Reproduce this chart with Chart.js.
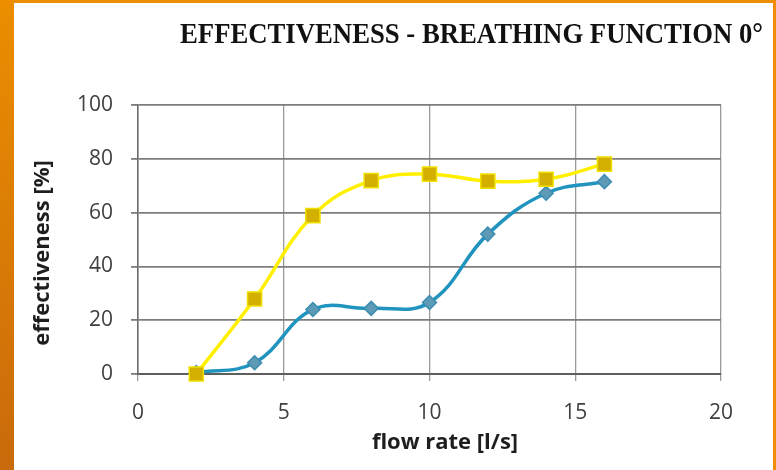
<!DOCTYPE html>
<html><head><meta charset="utf-8">
<script src="https://cdn.jsdelivr.net/npm/chart.js@4/dist/chart.umd.min.js"></script>
<style>html,body{margin:0;padding:0;background:#fff;overflow:hidden}#wrap{width:776px;height:470px;position:relative}</style>
</head><body><div id="wrap"><canvas id="c" width="776" height="470"></canvas></div>
<script>
const chartTitle = 'EFFECTIVENESS - BREATHING FUNCTION 0°';
const xAxisTitle = 'flow rate [l/s]';
const yAxisTitle = 'effectiveness [%]';
const flowRates = [2, 4, 6, 8, 10, 12, 14, 16];
const yellowSeries = [0, 27.9, 58.9, 71.9, 74.3, 71.7, 72.4, 78];
const blueSeries = [0.5, 4.2, 24, 24.4, 26.6, 52, 67.2, 71.5];
const xTicks = [0, 5, 10, 15, 20];
const yTicks = [0, 20, 40, 60, 80, 100];

const toPoints = (xs, ys) => xs.map((x, i) => ({x: x, y: ys[i]}));

const framePlugin = {
  id: 'frame',
  beforeDraw(chart) {
    const ctx = chart.ctx, W = chart.width, H = chart.height;
    ctx.save();
    const g = ctx.createLinearGradient(0, 0, 0, H);
    g.addColorStop(0, '#EC8E00');
    g.addColorStop(1, '#C96A0C');
    ctx.fillStyle = g;
    ctx.fillRect(0, 0, W, H);
    ctx.fillStyle = '#F08C00';
    ctx.fillRect(W - 4, 0, 4, H);
    ctx.fillStyle = '#ffffff';
    ctx.fillRect(14, 3, W - 14 - 3, H - 3);
    ctx.restore();
  }
};

const titlesPlugin = {
  id: 'titles',
  afterDraw(chart) {
    const ctx = chart.ctx;
    ctx.save();
    ctx.fillStyle = '#111111';
    ctx.font = 'bold 30px "Liberation Serif"';
    ctx.textBaseline = 'alphabetic';
    ctx.textAlign = 'left';
    const w = ctx.measureText(chartTitle).width;
    ctx.translate(180, 43);
    ctx.scale(583 / w, 1);
    ctx.fillText(chartTitle, 0, 0);
    ctx.restore();

    ctx.save();
    ctx.fillStyle = '#1e1e1e';
    ctx.font = 'bold 22px "Open Sans"';
    ctx.textAlign = 'center';
    ctx.textBaseline = 'middle';
    ctx.fillText(xAxisTitle, 445, 443);
    ctx.translate(43, 253);
    ctx.rotate(-Math.PI / 2);
    ctx.fillText(yAxisTitle, 0, 0);
    ctx.restore();
  }
};

new Chart(document.getElementById('c'), {
  type: 'line',
  data: {
    datasets: [
      {
        label: 'yellow',
        data: toPoints(flowRates, yellowSeries),
        borderColor: '#FFF000',
        borderWidth: 3.5,
        tension: 0.4,
        clip: false,
        pointStyle: 'rect',
        pointRadius: 10,
        pointBackgroundColor: '#D3AF00',
        pointBorderColor: '#F0E000',
        pointBorderWidth: 1.5,
        order: 0
      },
      {
        label: 'blue',
        data: toPoints(flowRates, blueSeries),
        borderColor: '#2094BE',
        borderWidth: 3.5,
        tension: 0.4,
        clip: false,
        pointStyle: 'rectRot',
        pointRadius: 7,
        pointBackgroundColor: '#5C9AB5',
        pointBorderColor: '#3C8DB2',
        pointBorderWidth: 1.5,
        order: 1
      }
    ]
  },
  options: {
    responsive: false,
    animation: false,
    devicePixelRatio: 1,
    layout: {padding: {top: 105, right: 55, left: 0, bottom: 0}},
    plugins: {legend: {display: false}, tooltip: {enabled: false}, title: {display: false}},
    scales: {
      x: {
        type: 'linear',
        min: 0, max: 20,
        afterBuildTicks: s => { s.ticks = xTicks.map(v => ({value: v})); },
        afterFit: s => { s.height = 96; },
        grid: {color: '#9a9a9a', lineWidth: 1.3, tickLength: 7, drawTicks: true},
        border: {color: '#5e5e5e', width: 2},
        ticks: {font: {family: 'Open Sans', size: 21}, color: '#404040', padding: 19, maxRotation: 0}
      },
      y: {
        min: 0, max: 100,
        afterBuildTicks: s => { s.ticks = yTicks.map(v => ({value: v})); },
        afterFit: s => { s.width = 138; },
        grid: {color: '#7d7d7d', lineWidth: 1.8, tickLength: 7, drawTicks: true},
        border: {color: '#6a6a6a', width: 1.5},
        ticks: {font: {family: 'Open Sans', size: 21}, color: '#404040', padding: 18}
      }
    }
  },
  plugins: [framePlugin, titlesPlugin]
});
</script>
</body></html>
